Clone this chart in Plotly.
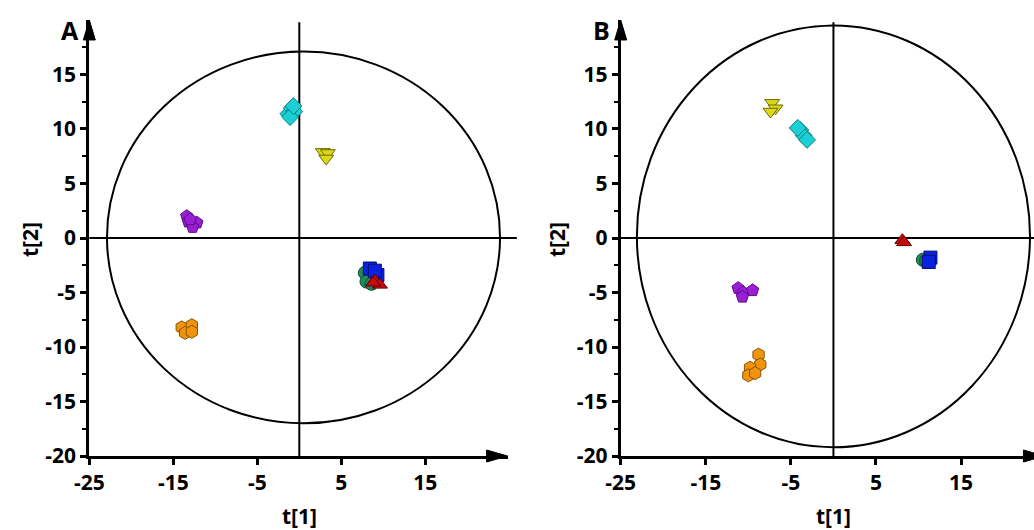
import plotly.graph_objects as go

# ---- score values (t[1], t[2]) per group ----
# Panel A
a_cyan_x = [-1.3, -0.9, -0.6, -1.1, -0.7]
a_cyan_y = [11.4, 11.9, 11.6, 11.1, 12.1]
a_yellow_x = [2.8, 3.4, 3.2]
a_yellow_y = [7.9, 7.8, 7.3]
a_purple_x = [-13.4, -13.2, -12.2, -12.7, -13.0]
a_purple_y = [2.0, 1.5, 1.4, 1.0, 1.7]
a_orange_x = [-14.0, -12.8, -13.6, -12.8]
a_orange_y = [-8.2, -8.0, -8.7, -8.6]
a_green_x = [7.8, 8.0, 8.6]
a_green_y = [-3.2, -4.0, -4.2]
a_blue_x = [8.4, 9.3, 9.0]
a_blue_y = [-2.8, -3.4, -3.0]
a_red_x = [9.0, 9.6, 8.8]
a_red_y = [-3.9, -4.3, -4.1]

# Panel B
b_yellow_x = [-7.2, -6.8, -7.4]
b_yellow_y = [12.4, 11.9, 11.6]
b_cyan_x = [-3.9, -3.5, -3.1, -4.2]
b_cyan_y = [9.9, 9.4, 9.0, 10.1]
b_purple_x = [-11.2, -10.6, -9.5, -10.7]
b_purple_y = [-4.6, -5.0, -4.8, -5.4]
b_orange_x = [-8.8, -8.6, -9.8, -10.0, -9.2]
b_orange_y = [-10.7, -11.6, -11.9, -12.6, -12.4]
b_green_x = [10.5, 10.9]
b_green_y = [-2.0, -2.1]
b_blue_x = [11.4, 11.2]
b_blue_y = [-1.8, -2.2]
b_red_x = [8.1, 8.3]
b_red_y = [-0.2, -0.4]

# Hotelling ellipses (x0, x1, y0, y1)
ellipse_a = (-22.9, 23.9, -17.0, 17.1)
ellipse_b = (-23.1, 23.1, -19.2, 19.5)

x_ticks = [-25, -15, -5, 5, 15]
y_ticks = [15, 10, 5, 0, -5, -10, -15, -20]
y_minor = [17.5, 12.5, 7.5, 2.5, -2.5, -7.5, -12.5, -17.5]

W, H = 1034, 530
XA_DOM, XA_RNG = [0.0864, 0.4909], [-25, 24.8]
XB_DOM, XB_RNG = [0.6003, 1.0], [-25, 23.57]
Y_DOM, Y_RNG = [0.1396, 0.9623], [-20, 20]

styles = {
    "cyan": dict(symbol="diamond", color="#1ccfd6", line="#05807f"),
    "yellow": dict(symbol="triangle-down", color="#d9d81a", line="#6f6b00"),
    "purple": dict(symbol="pentagon", color="#9a1fd4", line="#5c0b86"),
    "orange": dict(symbol="hexagon", color="#f0940e", line="#8a5200"),
    "green": dict(symbol="circle", color="#1f8a5e", line="#0b4a2f"),
    "blue": dict(symbol="square", color="#0a22e0", line="#00106a"),
    "red": dict(symbol="triangle-up", color="#c80b0b", line="#5e0000"),
}

fig = go.Figure()


def add_group(xs, ys, key, xa, ya):
    s = styles[key]
    fig.add_trace(go.Scatter(
        x=xs, y=ys, mode="markers", xaxis=xa, yaxis=ya, showlegend=False,
        cliponaxis=False, hoverinfo="skip",
        marker=dict(symbol=s["symbol"], size=13, color=s["color"],
                    line=dict(color=s["line"], width=1)),
    ))


for xs, ys, key in [(a_cyan_x, a_cyan_y, "cyan"), (a_yellow_x, a_yellow_y, "yellow"),
                    (a_purple_x, a_purple_y, "purple"), (a_orange_x, a_orange_y, "orange"),
                    (a_green_x, a_green_y, "green"), (a_blue_x, a_blue_y, "blue"),
                    (a_red_x, a_red_y, "red")]:
    add_group(xs, ys, key, "x", "y")

for xs, ys, key in [(b_yellow_x, b_yellow_y, "yellow"), (b_cyan_x, b_cyan_y, "cyan"),
                    (b_purple_x, b_purple_y, "purple"), (b_orange_x, b_orange_y, "orange"),
                    (b_green_x, b_green_y, "green"), (b_blue_x, b_blue_y, "blue"),
                    (b_red_x, b_red_y, "red")]:
    add_group(xs, ys, key, "x2", "y2")


def to_paper(v, dom, rng):
    return dom[0] + (v - rng[0]) / (rng[1] - rng[0]) * (dom[1] - dom[0])


shapes = []
LINE = dict(color="black", width=2)
ARROW_LEN, ARROW_HALF = 21, 6


def panel_decor(xdom, xrng, xref, yref, ell, hline_end):
    # confidence ellipse
    x0, x1, y0, y1 = ell
    shapes.append(dict(type="circle", xref=xref, yref=yref, x0=x0, x1=x1, y0=y0, y1=y1,
                       line=LINE, layer="below"))
    # zero lines (paper refs so they can run past the axis range)
    xz = to_paper(0, xdom, xrng)
    shapes.append(dict(type="line", xref="paper", yref="paper", x0=xz, x1=xz,
                       y0=to_paper(-20, Y_DOM, Y_RNG), y1=to_paper(19.8, Y_DOM, Y_RNG),
                       line=LINE, layer="below"))
    yz = to_paper(0, Y_DOM, Y_RNG)
    shapes.append(dict(type="line", xref="paper", yref="paper",
                       x0=to_paper(-25, xdom, xrng), x1=to_paper(hline_end, xdom, xrng),
                       y0=yz, y1=yz, line=LINE, layer="below"))
    # arrow heads on the axes
    xt = to_paper(24.8, xdom, xrng)
    yb = to_paper(-20, Y_DOM, Y_RNG)
    dx, dy = ARROW_LEN / W, ARROW_HALF / H
    shapes.append(dict(type="path", xref="paper", yref="paper",
                       path=f"M{xt},{yb} L{xt - dx},{yb + dy} L{xt - dx},{yb - dy} Z",
                       fillcolor="black", line=dict(color="black", width=1)))
    xl = to_paper(-25, xdom, xrng)
    yt = to_paper(20, Y_DOM, Y_RNG)
    ex, ey = ARROW_HALF / W, 20 / H
    shapes.append(dict(type="path", xref="paper", yref="paper",
                       path=f"M{xl},{yt} L{xl - ex},{yt - ey} L{xl + ex},{yt - ey} Z",
                       fillcolor="black", line=dict(color="black", width=1)))


panel_decor(XA_DOM, XA_RNG, "x", "y", ellipse_a, 25.9)
panel_decor(XB_DOM, XB_RNG, "x2", "y2", ellipse_b, 24.6)

FAMILY = "Open Sans"
TICKFONT = dict(family=FAMILY, size=21, color="black", weight=700)


def label(v):
    # plain hyphen for negatives
    return f"<b>{v}</b>"


def xaxis(dom, rng, anchor):
    return dict(domain=dom, range=rng, anchor=anchor, showgrid=False, zeroline=False,
                showline=True, linecolor="black", linewidth=3, ticks="outside",
                ticklen=6, tickwidth=2.5, tickcolor="black", tickvals=x_ticks,
                ticktext=[label(v) for v in x_ticks], automargin=False,
                tickfont=TICKFONT, fixedrange=True)


def yaxis(anchor):
    return dict(domain=Y_DOM, range=Y_RNG, anchor=anchor, showgrid=False, zeroline=False,
                showline=True, linecolor="black", linewidth=3, ticks="outside",
                ticklen=6, tickwidth=2.5, tickcolor="black", tickvals=y_ticks,
                ticktext=[label(v) for v in y_ticks], automargin=False,
                tickfont=TICKFONT, fixedrange=True,
                minor=dict(tickvals=y_minor, ticks="outside", ticklen=4, tickwidth=2,
                           tickcolor="black"))


TITLEFONT = dict(family=FAMILY, size=21, color="black", weight=700)
annotations = []
for xdom, xrng, letter, ylab_x in [(XA_DOM, XA_RNG, "A", 30), (XB_DOM, XB_RNG, "B", 557)]:
    annotations.append(dict(text="<b>t[1]</b>", xref="paper", yref="paper",
                            x=to_paper(0, xdom, xrng), y=(H - 516) / H, showarrow=False,
                            xanchor="center", yanchor="middle", font=TITLEFONT))
    annotations.append(dict(text="<b>t[2]</b>", xref="paper", yref="paper", textangle=-90,
                            x=ylab_x / W, y=(H - 240) / H, showarrow=False,
                            xanchor="center", yanchor="middle", font=TITLEFONT))
    annotations.append(dict(text=f"<b>{letter}</b>", xref="paper", yref="paper",
                            x=to_paper(-25, xdom, xrng) - 19 / W, y=(H - 30) / H,
                            showarrow=False, xanchor="center", yanchor="middle",
                            font=dict(family=FAMILY, size=25, color="black", weight=700)))

fig.update_layout(
    width=W, height=H, margin=dict(l=0, r=0, t=0, b=0, autoexpand=False),
    paper_bgcolor="white", plot_bgcolor="white",
    xaxis=xaxis(XA_DOM, XA_RNG, "y"), yaxis=yaxis("x"),
    xaxis2=xaxis(XB_DOM, XB_RNG, "y2"), yaxis2=yaxis("x2"),
    shapes=shapes, annotations=annotations,
)

fig.write_html("out.html")
